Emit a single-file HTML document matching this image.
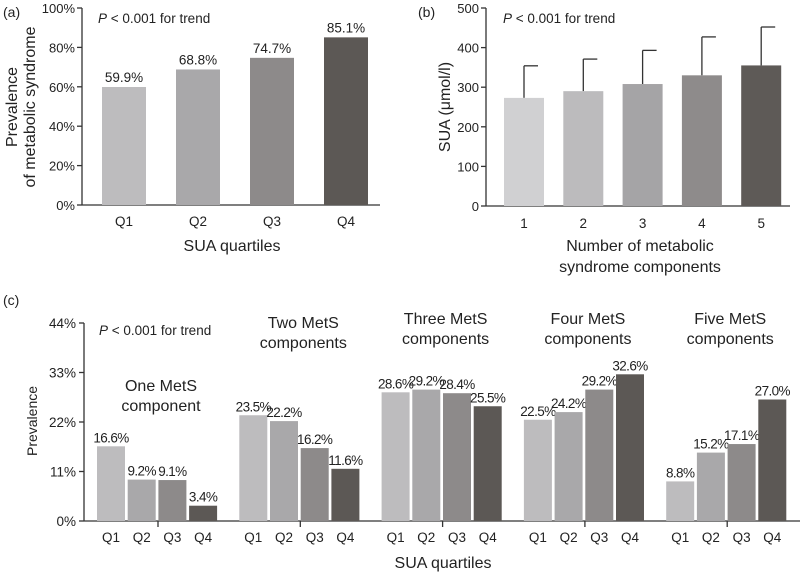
<!DOCTYPE html>
<html><head><meta charset="utf-8"><style>
body{margin:0;background:#fff}
svg{display:block;font-family:"Liberation Sans",sans-serif;fill:#222}
</style></head><body>
<svg id="s" width="800" height="572"></svg>
<script>
const aCats=["Q1","Q2","Q3","Q4"];
const aVals=[59.9,68.8,74.7,85.1];
const aTicks=[0,20,40,60,80,100];
const bCats=["1","2","3","4","5"];
const bMeans=[273,290,308,330,355];
const bUpper=[354,371,393,427,452];
const bTicks=[0,100,200,300,400,500];
const cGroups=[["One MetS","component"],["Two MetS","components"],["Three MetS","components"],["Four MetS","components"],["Five MetS","components"]];
const cVals=[[16.6,9.2,9.1,3.4],[23.5,22.2,16.2,11.6],[28.6,29.2,28.4,25.5],[22.5,24.2,29.2,32.6],[8.8,15.2,17.1,27.0]];
const cTicks=[0,11,22,33,44];
const qColors=["#bdbcbe","#a9a8aa","#8d8a8a","#5c5855"];
const bColors=["#d0d0d2","#bcbbbd","#a5a4a6","#8e8b8b","#5e5a57"];
const S=document.getElementById('s');
const NS="http://www.w3.org/2000/svg";
function el(t,a,txt){const e=document.createElementNS(NS,t);for(const k in a)e.setAttribute(k,a[k]);if(txt!==undefined)e.textContent=txt;S.appendChild(e);return e;}
function line(x1,y1,x2,y2,name){const e=el('line',{x1,y1,x2,y2,stroke:'#333','stroke-width':1.3});

return e;}
function text(x,y,s,size,anchor,name,extra){const e=el('text',Object.assign({x,y,'font-size':size,'text-anchor':anchor||'middle'},extra||{}),s);

return e;}
function rect(x,y,w,h,c,name){const e=el('rect',{x,y,width:w,height:h,fill:c});

return e;}
function ptext(x,y,size,name){const e=el('text',{x,y,'font-size':size});


e.innerHTML='<tspan font-style="italic">P</tspan> &lt; 0.001 for trend';}

// Panel A
const aY=v=>205-v*1.97, aX=i=>102+i*74;
text(3,17,"(a)",14,'start','panel-a-label');
line(82,8,82,205,'a-y-axis');line(82,205,380,205,'a-x-axis');
aTicks.forEach(t=>{line(77,aY(t),82,aY(t),'a-y-tick');text(75,aY(t)+5,t+"%",13,'end','a-y-tick-label');});
aVals.forEach((v,i)=>{rect(aX(i),aY(v),44,205-aY(v),qColors[i],'a-bar-'+aCats[i].toLowerCase());
text(aX(i)+22,aY(v)-5,v.toFixed(1)+"%",13.5,'middle','a-bar-value');
text(aX(i)+22,226,aCats[i],13.5,'middle','a-x-tick-label');});
ptext(98,23,13.5,'a-p-value');
text(232,251,"SUA quartiles",16,'middle','a-x-axis-title');
text(12,107,"Prevalence",16,'middle','a-y-axis-title',{transform:'rotate(-90 12 107)',dy:5});
text(30,107,"of metabolic syndrome",16,'middle','a-y-axis-title',{transform:'rotate(-90 30 107)',dy:5});

// Panel B
const bY=v=>206-v*0.396, bX=i=>504+i*59.3;
text(418,17,"(b)",14,'start','panel-b-label');
line(486,8,486,206,'b-y-axis');line(486,206,790,206,'b-x-axis');
bTicks.forEach(t=>{line(481,bY(t),486,bY(t),'b-y-tick');text(479,bY(t)+5,t,13,'end','b-y-tick-label');});
bMeans.forEach((v,i)=>{const cx=bX(i)+20;
line(cx,bY(v),cx,bY(bUpper[i]),'b-error-bar');line(cx,bY(bUpper[i]),cx+14,bY(bUpper[i]),'b-error-cap');
rect(bX(i),bY(v),40,206-bY(v),bColors[i],'b-bar-'+bCats[i]);
text(cx,228,bCats[i],13.5,'middle','b-x-tick-label');});
ptext(503,23,13.5,'b-p-value');
text(640,251,"Number of metabolic",16,'middle','b-x-axis-title');
text(640,272,"syndrome components",16,'middle','b-x-axis-title');
text(445,107,"SUA (μmol/l)",16,'middle','b-y-axis-title',{transform:'rotate(-90 445 107)',dy:5});

// Panel C
const cY=v=>521-v*4.5, gX=g=>97+g*142.3;
text(3,305,"(c)",14,'start','panel-c-label');
line(84,323,84,521,'c-y-axis');line(84,521,800,521,'c-x-axis');
cTicks.forEach(t=>{line(79,cY(t),84,cY(t),'c-y-tick');text(76,cY(t)+5,t+"%",13.5,'end','c-y-tick-label');});
cVals.forEach((grp,g)=>{
 line(gX(g)+61,521,gX(g)+61,527,'c-group-tick');
 grp.forEach((v,i)=>{const x=gX(g)+i*30.7;
  rect(x,cY(v),28,521-cY(v),qColors[i],'c-bar-g'+(g+1)+'-'+aCats[i].toLowerCase());
  text(x+14,cY(v)-4,v.toFixed(1)+"%",13.5,'middle','c-bar-value',{'letter-spacing':-0.6});
  text(x+14,542,aCats[i],13.5,'middle','c-x-tick-label');});
 const ty=g==0?391:(g==1?328:324);
 text(gX(g)+64,ty,cGroups[g][0],16,'middle','c-group-title');
 text(gX(g)+64,ty+20,cGroups[g][1],16,'middle','c-group-title');
});
ptext(99,335,13.5,'c-p-value');
text(443,568,"SUA quartiles",16,'middle','c-x-axis-title');
text(32,421,"Prevalence",14,'middle','c-y-axis-title',{transform:'rotate(-90 32 421)',dy:5});
</script>
</body></html>
